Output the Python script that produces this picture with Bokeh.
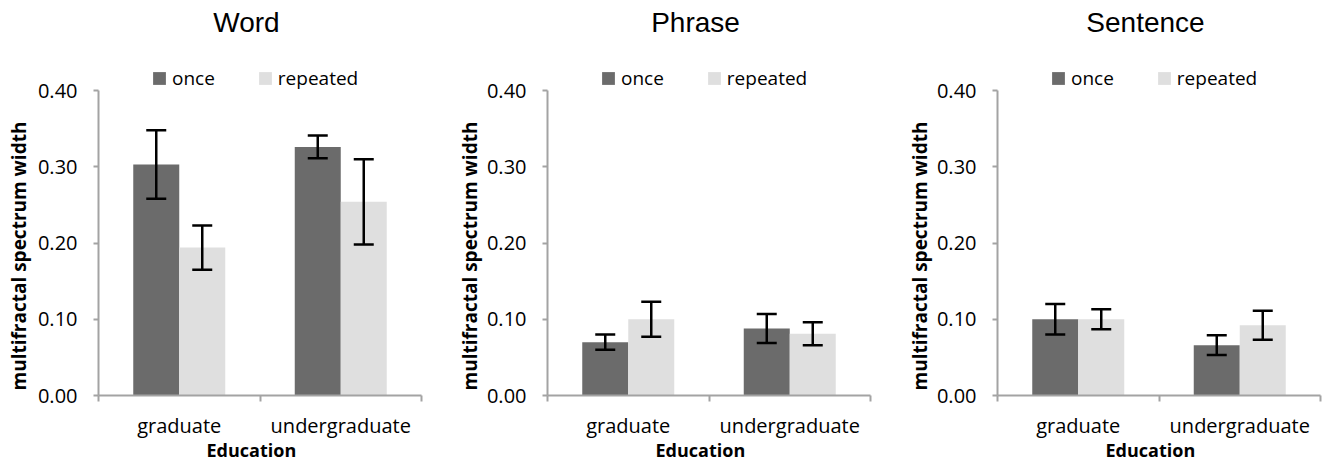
from bokeh.plotting import figure
from bokeh.layouts import row
from bokeh.models import (ColumnDataSource, Whisker, TeeHead, Legend, LegendItem, Label, Title,
                          FixedTicker, NumeralTickFormatter, Range1d)
from bokeh.embed import file_html
from bokeh.resources import INLINE

# ---------------- data ----------------
education = ["graduate", "undergraduate"]
series_names = ["once", "repeated"]
panel_titles = ["Word", "Phrase", "Sentence"]

word_once = [0.303, 0.326]
word_once_err = [0.045, 0.015]
word_repeated = [0.194, 0.254]
word_repeated_err = [0.029, 0.056]

phrase_once = [0.070, 0.088]
phrase_once_err = [0.010, 0.019]
phrase_repeated = [0.100, 0.081]
phrase_repeated_err = [0.023, 0.015]

sentence_once = [0.100, 0.066]
sentence_once_err = [0.020, 0.013]
sentence_repeated = [0.100, 0.092]
sentence_repeated_err = [0.013, 0.019]

y_ticks = [0.0, 0.1, 0.2, 0.3, 0.4]
y_label = "multifractal spectrum width"
x_label = "Education"

# ---------------- style / layout ----------------
ONCE_COLOR = "#6b6b6b"
REP_COLOR = "#dfdfdf"
AXIS_COLOR = "#a3a3a3"
TICK_FONT = "Open Sans"
TITLE_FONT = "Liberation Sans"

FRAME_W = 323
FRAME_H = 395
PX_PER_Y = 762.5            # pixels per y unit
PX_PER_X = FRAME_W / 2.0    # pixels per x unit
Y_MAX = FRAME_H / PX_PER_Y
BAR_W = 46 / PX_PER_X
OFFSET = BAR_W / 2


def make_panel(title, once, once_err, rep, rep_err, right_border, ylab_standoff):
    p = figure(frame_width=FRAME_W, frame_height=FRAME_H,
               x_range=Range1d(0, 2), y_range=Range1d(0, Y_MAX),
               output_backend="svg", toolbar_location=None,
               min_border_left=98, min_border_right=right_border,
               min_border_top=0, min_border_bottom=63)
    p.outline_line_color = None
    p.xgrid.visible = False
    p.ygrid.visible = False
    p.background_fill_color = "white"
    p.border_fill_color = "white"

    centers = [i + 0.5 for i in range(len(education))]
    src_once = ColumnDataSource(dict(
        x=[c - OFFSET for c in centers], top=once,
        upper=[m + e for m, e in zip(once, once_err)],
        lower=[m - e for m, e in zip(once, once_err)]))
    src_rep = ColumnDataSource(dict(
        x=[c + OFFSET for c in centers], top=rep,
        upper=[m + e for m, e in zip(rep, rep_err)],
        lower=[m - e for m, e in zip(rep, rep_err)]))

    r1 = p.vbar(x="x", top="top", bottom=0, width=BAR_W, source=src_once,
                fill_color=ONCE_COLOR, line_color=None)
    r2 = p.vbar(x="x", top="top", bottom=0, width=BAR_W, source=src_rep,
                fill_color=REP_COLOR, line_color=None)

    for src in (src_once, src_rep):
        w = Whisker(source=src, base="x", upper="upper", lower="lower",
                    dimension="height", line_width=2.5, line_color="black",
                    level="annotation",
                    upper_head=TeeHead(size=20, line_width=2.5, line_color="black"),
                    lower_head=TeeHead(size=20, line_width=2.5, line_color="black"))
        p.add_layout(w)

    # y axis
    ya = p.yaxis[0]
    ya.bounds = (0, 0.4)
    ya.ticker = FixedTicker(ticks=y_ticks)
    ya.formatter = NumeralTickFormatter(format="0.00")
    ya.axis_line_color = AXIS_COLOR
    ya.axis_line_width = 2
    ya.major_tick_line_color = AXIS_COLOR
    ya.major_tick_line_width = 2
    ya.major_tick_out = 5
    ya.major_tick_in = 0
    ya.minor_tick_line_color = None
    ya.major_label_standoff = 16
    ya.major_label_text_font = TICK_FONT
    ya.major_label_text_font_size = "20px"
    ya.major_label_text_color = "black"

    # x axis
    xa = p.xaxis[0]
    xa.ticker = FixedTicker(ticks=centers, minor_ticks=list(range(len(education) + 1)))
    xa.major_label_overrides = {c: cat for c, cat in zip(centers, education)}
    xa.axis_line_color = AXIS_COLOR
    xa.axis_line_width = 2
    xa.major_tick_line_color = None
    xa.minor_tick_line_color = AXIS_COLOR
    xa.minor_tick_line_width = 2
    xa.minor_tick_out = 6
    xa.minor_tick_in = 0
    xa.major_label_standoff = 10
    xa.major_label_text_font = TICK_FONT
    xa.major_label_text_font_size = "20px"
    xa.major_label_text_color = "black"

    # panel title (inside the frame area, above the bars)
    p.add_layout(Label(x=148 / PX_PER_X, y=(FRAME_H - 22) / PX_PER_Y, text=title,
                       text_font=TITLE_FONT, text_font_size="28px",
                       text_align="center", text_baseline="alphabetic",
                       text_color="black"))

    # axis titles as side titles
    p.add_layout(Title(text=y_label, align="left", offset=5, standoff=ylab_standoff,
                       text_font=TICK_FONT, text_font_size="19px",
                       text_font_style="bold", text_color="black"), "left")
    p.add_layout(Title(text=x_label, align="left", offset=108, standoff=-12,
                       text_font=TICK_FONT, text_font_size="18px",
                       text_font_style="bold", text_color="black"), "below")

    legend = Legend(items=[LegendItem(label=series_names[0], renderers=[r1]),
                           LegendItem(label=series_names[1], renderers=[r2])],
                    orientation="horizontal", location=(53, 304),
                    glyph_width=16, glyph_height=16, label_standoff=5, spacing=42,
                    padding=0, margin=0, border_line_color=None,
                    background_fill_alpha=0,
                    label_text_font=TICK_FONT, label_text_font_size="19px",
                    label_text_color="black")
    p.add_layout(legend)
    return p


p1 = make_panel(panel_titles[0], word_once, word_once_err, word_repeated, word_repeated_err, 28, 6)
p2 = make_panel(panel_titles[1], phrase_once, phrase_once_err, phrase_repeated, phrase_repeated_err, 29, 2)
p3 = make_panel(panel_titles[2], sentence_once, sentence_once_err, sentence_repeated, sentence_repeated_err, 2, 2)

layout = row(p1, p2, p3)
open("out.html", "w").write(file_html(layout, INLINE))
